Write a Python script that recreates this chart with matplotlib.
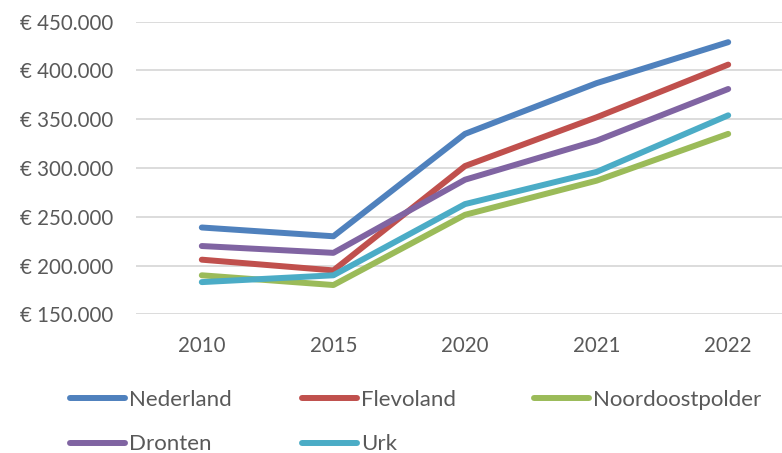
import matplotlib.pyplot as plt
from matplotlib.ticker import FuncFormatter

# Gemiddelde woningwaarde per regio
jaren = ["2010", "2015", "2020", "2021", "2022"]
nederland = [239000, 230000, 335000, 387000, 429000]
flevoland = [206000, 195000, 302000, 352000, 406000]
noordoostpolder = [190000, 180000, 252000, 287000, 335000]
dronten = [220000, 213000, 288000, 328000, 381000]
urk = [183000, 190000, 263000, 296000, 354000]

reeksen = [
    ("Nederland", nederland, "#4F81BD"),
    ("Flevoland", flevoland, "#C0504D"),
    ("Noordoostpolder", noordoostpolder, "#9BBB59"),
    ("Dronten", dronten, "#8064A2"),
    ("Urk", urk, "#4BACC6"),
]

COL_TEXT = "#595959"
COL_GRID = "#D9D9D9"
FONT = "Lato"
FS = 14.8
FS_LEG = 16

plt.rcParams["font.family"] = [FONT, "DejaVu Sans"]

W, H = 782, 453
fig = plt.figure(figsize=(W / 100, H / 100), dpi=100, facecolor="white")
left, right = 136 / W, 794 / W
top, bottom = 1 - 21.7 / H, 1 - 314.3 / H
ax = fig.add_axes([left, bottom, right - left, top - bottom])

x = list(range(len(jaren)))
lines = []
for naam, waarden, kleur in reeksen:
    (ln,) = ax.plot(x, waarden, color=kleur, linewidth=4.3, label=naam,
                    solid_capstyle="round", solid_joinstyle="round", zorder=3)
    lines.append(ln)

ax.set_xlim(-0.5, len(jaren) - 0.5)
ax.set_ylim(150000, 450000)
ax.set_yticks(range(150000, 450001, 50000))
ax.yaxis.set_major_formatter(FuncFormatter(lambda v, _: "€ " + f"{int(v):,}".replace(",", ".")))
ax.set_xticks(x)
ax.set_xticklabels(jaren)

ax.grid(axis="y", color=COL_GRID, linewidth=1.3, zorder=0)
ax.grid(axis="x", visible=False)
for s in ax.spines.values():
    s.set_visible(False)
ax.tick_params(axis="both", length=0, labelsize=FS, labelcolor=COL_TEXT)
ax.tick_params(axis="y", pad=16.5)
ax.tick_params(axis="x", pad=15.5)

# legenda: drie kolommen, rij voor rij gevuld
kolom_x = [70, 302, 534]
for k, kx in enumerate(kolom_x):
    hs = lines[k::3]
    fig.legend(handles=hs, labels=[h.get_label() for h in hs],
               loc="upper left", bbox_to_anchor=(kx / W, 1 - 390 / H),
               frameon=False, fontsize=FS_LEG, handlelength=2.48,
               handletextpad=0.18, labelspacing=1.1, borderpad=0,
               borderaxespad=0, labelcolor=COL_TEXT)

fig.savefig("out.png", dpi=100, facecolor="white")
